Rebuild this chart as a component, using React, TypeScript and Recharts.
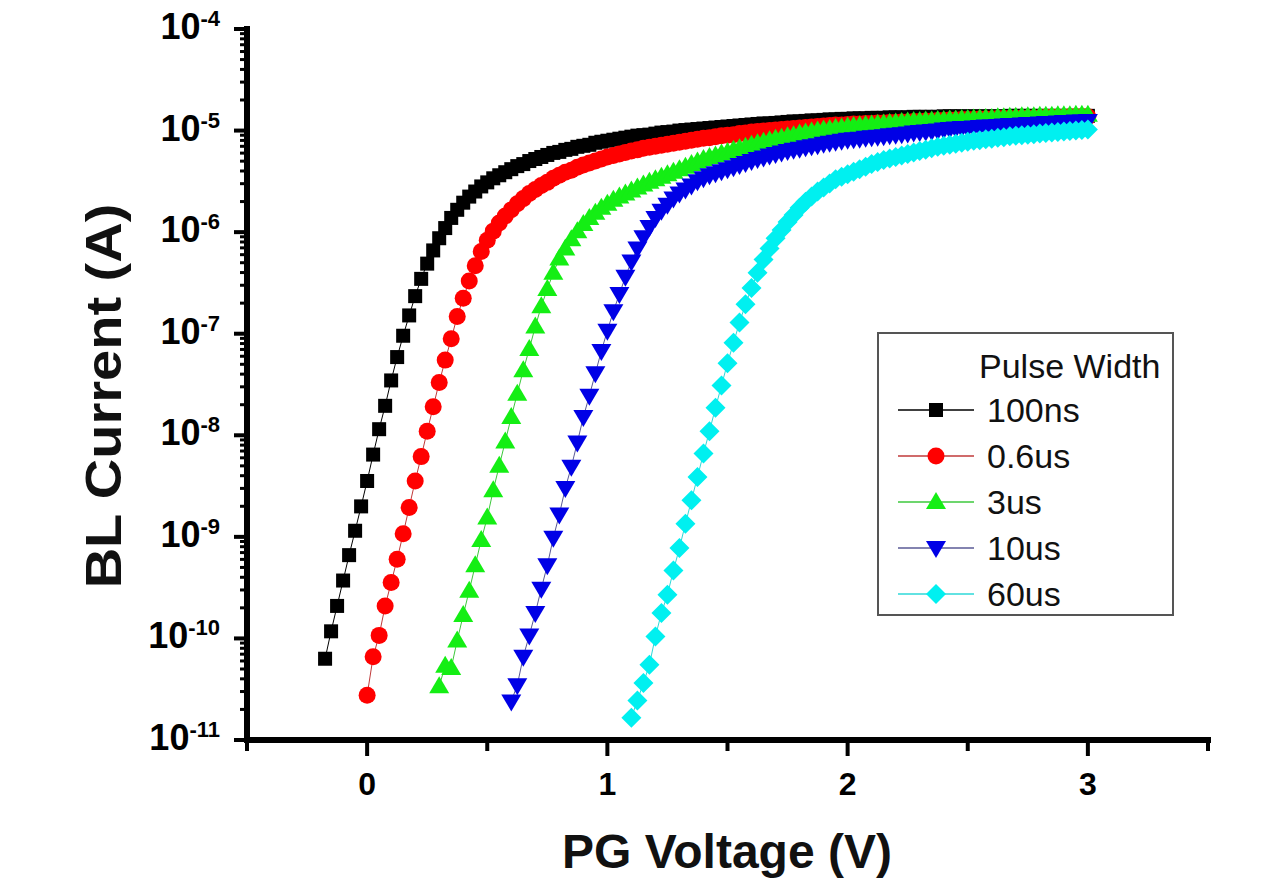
import { ScatterChart, Scatter, XAxis, YAxis, Legend, Label } from "recharts";

// gate voltage sweep (V), 25 mV steps
const VOLTAGES = [
  -0.175, -0.15, -0.125, -0.1, -0.075, -0.05, -0.025, 0,
  0.025, 0.05, 0.075, 0.1, 0.125, 0.15, 0.175, 0.2,
  0.225, 0.25, 0.275, 0.3, 0.325, 0.35, 0.375, 0.4,
  0.425, 0.45, 0.475, 0.5, 0.525, 0.55, 0.575, 0.6,
  0.625, 0.65, 0.675, 0.7, 0.725, 0.75, 0.775, 0.8,
  0.825, 0.85, 0.875, 0.9, 0.925, 0.95, 0.975, 1,
  1.025, 1.05, 1.075, 1.1, 1.125, 1.15, 1.175, 1.2,
  1.225, 1.25, 1.275, 1.3, 1.325, 1.35, 1.375, 1.4,
  1.425, 1.45, 1.475, 1.5, 1.525, 1.55, 1.575, 1.6,
  1.625, 1.65, 1.675, 1.7, 1.725, 1.75, 1.775, 1.8,
  1.825, 1.85, 1.875, 1.9, 1.925, 1.95, 1.975, 2,
  2.025, 2.05, 2.075, 2.1, 2.125, 2.15, 2.175, 2.2,
  2.225, 2.25, 2.275, 2.3, 2.325, 2.35, 2.375, 2.4,
  2.425, 2.45, 2.475, 2.5, 2.525, 2.55, 2.575, 2.6,
  2.625, 2.65, 2.675, 2.7, 2.725, 2.75, 2.775, 2.8,
  2.825, 2.85, 2.875, 2.9, 2.925, 2.95, 2.975, 3,
];

// log10 of BL current (A), one value per sweep step from the series' start voltage
const LOG_I_100NS = [
  -10.2, -9.93, -9.68, -9.43, -9.18, -8.94, -8.7, -8.45,
  -8.19, -7.94, -7.71, -7.46, -7.23, -7.02, -6.82, -6.63,
  -6.46, -6.31, -6.18, -6.06, -5.96, -5.86, -5.78, -5.71,
  -5.65, -5.6, -5.55, -5.51, -5.47, -5.44, -5.41, -5.38,
  -5.35, -5.33, -5.3, -5.28, -5.26, -5.24, -5.22, -5.21,
  -5.19, -5.18, -5.16, -5.15, -5.14, -5.12, -5.11, -5.1,
  -5.09, -5.08, -5.07, -5.06, -5.05, -5.045, -5.04, -5.03,
  -5.02, -5.015, -5.01, -5.0, -4.995, -4.99, -4.985, -4.98,
  -4.975, -4.97, -4.965, -4.96, -4.955, -4.95, -4.945, -4.94,
  -4.935, -4.93, -4.93, -4.925, -4.92, -4.915, -4.91, -4.91,
  -4.905, -4.9, -4.9, -4.895, -4.89, -4.89, -4.885, -4.885,
  -4.88, -4.88, -4.88, -4.875, -4.875, -4.875, -4.87, -4.87,
  -4.87, -4.87, -4.865, -4.865, -4.865, -4.865, -4.865, -4.86,
  -4.86, -4.86, -4.86, -4.86, -4.86, -4.86, -4.86, -4.86,
  -4.86, -4.86, -4.855, -4.855, -4.855, -4.855, -4.855, -4.855,
  -4.855, -4.855, -4.855, -4.855, -4.855, -4.855, -4.855, -4.855,
];

const LOG_I_06US = [
  -10.56, -10.18, -9.97, -9.68, -9.45, -9.22, -8.97, -8.71,
  -8.45, -8.21, -7.96, -7.72, -7.48, -7.26, -7.05, -6.83,
  -6.65, -6.48, -6.33, -6.19, -6.08, -5.99, -5.91, -5.84,
  -5.78, -5.72, -5.67, -5.62, -5.58, -5.54, -5.51, -5.47,
  -5.44, -5.41, -5.39, -5.36, -5.34, -5.32, -5.3, -5.28,
  -5.26, -5.245, -5.23, -5.215, -5.2, -5.19, -5.175, -5.165,
  -5.155, -5.145, -5.135, -5.125, -5.115, -5.105, -5.095, -5.085,
  -5.075, -5.07, -5.06, -5.05, -5.045, -5.04, -5.03, -5.025,
  -5.015, -5.01, -5.005, -5.0, -4.995, -4.99, -4.985, -4.98,
  -4.975, -4.97, -4.965, -4.96, -4.955, -4.95, -4.945, -4.945,
  -4.94, -4.935, -4.935, -4.93, -4.93, -4.925, -4.925, -4.92,
  -4.92, -4.915, -4.915, -4.91, -4.91, -4.905, -4.905, -4.9,
  -4.9, -4.895, -4.895, -4.89, -4.89, -4.89, -4.885, -4.885,
  -4.885, -4.88, -4.88, -4.88, -4.88, -4.875, -4.875, -4.875,
  -4.875, -4.87, -4.87, -4.87, -4.87, -4.865, -4.865, -4.865,
  -4.865,
];

const LOG_I_3US = [
  -10.47, -10.27, -10.29, -10.02, -9.77, -9.53, -9.28, -9.03,
  -8.81, -8.54, -8.3, -8.06, -7.82, -7.59, -7.36, -7.15,
  -6.93, -6.73, -6.56, -6.4, -6.26, -6.16, -6.07, -5.99,
  -5.92, -5.86, -5.81, -5.76, -5.72, -5.68, -5.65, -5.62,
  -5.59, -5.56, -5.53, -5.505, -5.48, -5.455, -5.43, -5.405,
  -5.38, -5.355, -5.33, -5.305, -5.28, -5.26, -5.245, -5.225,
  -5.21, -5.19, -5.175, -5.16, -5.14, -5.125, -5.11, -5.095,
  -5.08, -5.07, -5.055, -5.045, -5.03, -5.02, -5.01, -5.0,
  -4.99, -4.985, -4.975, -4.97, -4.96, -4.955, -4.95, -4.945,
  -4.94, -4.935, -4.93, -4.925, -4.92, -4.915, -4.91, -4.905,
  -4.905, -4.9, -4.9, -4.895, -4.895, -4.89, -4.89, -4.885,
  -4.885, -4.88, -4.88, -4.875, -4.875, -4.87, -4.87, -4.865,
  -4.865, -4.86, -4.86, -4.86, -4.855, -4.855, -4.855, -4.85,
  -4.85, -4.85, -4.845, -4.845, -4.845,
];

const LOG_I_10US = [
  -10.62, -10.46, -10.18, -9.97, -9.75, -9.51, -9.28, -9.01,
  -8.78, -8.52, -8.31, -8.07, -7.82, -7.61, -7.39, -7.17,
  -6.97, -6.78, -6.61, -6.44, -6.29, -6.16, -6.05, -5.95,
  -5.86, -5.79, -5.73, -5.67, -5.62, -5.58, -5.54, -5.5,
  -5.47, -5.44, -5.42, -5.4, -5.38, -5.36, -5.34, -5.32,
  -5.3, -5.28, -5.265, -5.245, -5.23, -5.215, -5.2, -5.19,
  -5.18, -5.165, -5.155, -5.145, -5.13, -5.12, -5.11, -5.1,
  -5.09, -5.085, -5.08, -5.07, -5.065, -5.06, -5.055, -5.045,
  -5.04, -5.035, -5.03, -5.02, -5.015, -5.01, -5.005, -5.0,
  -4.99, -4.985, -4.98, -4.975, -4.975, -4.97, -4.965, -4.96,
  -4.96, -4.955, -4.95, -4.945, -4.945, -4.94, -4.935, -4.935,
  -4.93, -4.925, -4.925, -4.92, -4.915, -4.915, -4.91, -4.91,
  -4.905,
];

const LOG_I_60US = [
  -10.78, -10.61, -10.44, -10.26, -9.98, -9.75, -9.57, -9.33,
  -9.11, -8.87, -8.64, -8.41, -8.18, -7.96, -7.73, -7.51,
  -7.29, -7.09, -6.89, -6.71, -6.55, -6.4, -6.27, -6.16,
  -6.06, -5.98, -5.9, -5.83, -5.76, -5.7, -5.65, -5.6,
  -5.56, -5.52, -5.48, -5.455, -5.43, -5.405, -5.38, -5.355,
  -5.33, -5.31, -5.29, -5.275, -5.26, -5.245, -5.23, -5.215,
  -5.2, -5.19, -5.175, -5.16, -5.15, -5.14, -5.13, -5.12,
  -5.11, -5.1, -5.095, -5.085, -5.08, -5.07, -5.065, -5.055,
  -5.05, -5.045, -5.04, -5.035, -5.03, -5.025, -5.02, -5.015,
  -5.01, -5.005, -5.0, -4.995, -4.99,
];

const X_TICKS = [-0.5, 0, 0.5, 1, 1.5, 2, 2.5, 3, 3.5];
const DECADES = [-11, -10, -9, -8, -7, -6, -5, -4];
const MINOR_STEPS = [2, 3, 4, 5, 6, 7, 8, 9];

type MarkerKind = "square" | "circle" | "triangle" | "triangleDown" | "diamond";

const SERIES: { name: string; start: number; values: number[]; color: string; lineColor: string; marker: MarkerKind }[] = [
  { name: "100ns", start: -0.175, values: LOG_I_100NS, color: "#000000", lineColor: "#000000", marker: "square" },
  { name: "0.6us", start: 0, values: LOG_I_06US, color: "#ff0000", lineColor: "#c03a3a", marker: "circle" },
  { name: "3us", start: 0.3, values: LOG_I_3US, color: "#14ee14", lineColor: "#3cc83c", marker: "triangle" },
  { name: "10us", start: 0.6, values: LOG_I_10US, color: "#0000e6", lineColor: "#5a5a96", marker: "triangleDown" },
  { name: "60us", start: 1.1, values: LOG_I_60US, color: "#00f0f0", lineColor: "#2ed8d8", marker: "diamond" },
];

const Y_TICKS = [
  ...DECADES.slice(0, -1).flatMap((d) => [d, ...MINOR_STEPS.map((k) => d + Math.log10(k))]),
  DECADES[DECADES.length - 1],
];

const FONT = '"Liberation Sans", Arial, Helvetica, sans-serif';

const isWhole = (v: number) => Math.abs(v - Math.round(v)) < 1e-9;

function Marker({ kind, cx, cy, fill }: { kind: MarkerKind; cx: number; cy: number; fill: string }) {
  switch (kind) {
    case "square":
      return <rect x={cx - 7} y={cy - 7} width={14} height={14} fill={fill} />;
    case "circle":
      return <circle cx={cx} cy={cy} r={8.5} fill={fill} />;
    case "triangle":
      return <polygon points={`${cx},${cy - 10} ${cx + 10},${cy + 7} ${cx - 10},${cy + 7}`} fill={fill} />;
    case "triangleDown":
      return <polygon points={`${cx - 10},${cy - 7} ${cx + 10},${cy - 7} ${cx},${cy + 10}`} fill={fill} />;
    default:
      return <polygon points={`${cx},${cy - 10} ${cx + 10},${cy} ${cx},${cy + 10} ${cx - 10},${cy}`} fill={fill} />;
  }
}

const XTick = ({ x, y, payload }: any) => {
  const major = isWhole(payload.value);
  return (
    <g>
      <line x1={x} x2={x} y1={y} y2={y + (major ? 16 : 11)} stroke="#000" strokeWidth={4} />
      {major && (
        <text x={x} y={y + 55} textAnchor="middle" fontFamily={FONT} fontWeight="bold" fontSize={32} fill="#000">
          {payload.value}
        </text>
      )}
    </g>
  );
};

const YTick = ({ x, y, payload }: any) => {
  const major = isWhole(payload.value);
  return (
    <g>
      <line x1={x - (major ? 13 : 7)} x2={x} y1={y} y2={y} stroke="#000" strokeWidth={major ? 4 : 3} />
      {major && (
        <text x={x - 27} y={y + 10} textAnchor="end" fontFamily={FONT} fontWeight="bold" fill="#000">
          <tspan fontSize={36}>10</tspan>
          <tspan fontSize={22} dy={-13}>{Math.round(payload.value)}</tspan>
        </text>
      )}
    </g>
  );
};

const PulseLegend = () => (
  <svg width={297} height={284} style={{ display: "block" }}>
    <rect x={1} y={1} width={295} height={282} fill="#fff" stroke="#555" strokeWidth={2} />
    <text x={102} y={46} fontFamily={FONT} fontSize={34} fill="#111">
      Pulse Width
    </text>
    {SERIES.map((s, i) => {
      const cy = 78 + i * 46;
      return (
        <g key={s.name}>
          <line x1={21} x2={97} y1={cy} y2={cy} stroke={s.lineColor} strokeWidth={1.5} />
          <Marker kind={s.marker} cx={59} cy={cy} fill={s.color} />
          <text x={110} y={cy + 12} fontFamily={FONT} fontSize={34} fill="#111">
            {s.name}
          </text>
        </g>
      );
    })}
  </svg>
);

export default function App() {
  const seriesData = SERIES.map((s) => {
    const from = VOLTAGES.indexOf(s.start);
    return s.values.map((logI, i) => ({ v: VOLTAGES[from + i], logI }));
  });

  return (
    <div style={{ position: "absolute", left: 0, top: 0, width: 1266, height: 882, background: "#fff" }}>
      <ScatterChart width={1266} height={882} margin={{ top: 29, right: 58, bottom: 62, left: 87 }}>
        <XAxis
          xAxisId={0}
          type="number"
          dataKey="v"
          domain={[-0.5, 3.5]}
          ticks={X_TICKS}
          interval={0}
          allowDataOverflow
          height={80}
          tickSize={0}
          tickMargin={0}
          tick={<XTick />}
          axisLine={{ stroke: "#000", strokeWidth: 6, strokeLinecap: "square" }}
        >
          <Label
            content={() => (
              <text x={727} y={868} textAnchor="middle" fontFamily={FONT} fontWeight="bold" fontSize={48} fill="#111">
                PG Voltage (V)
              </text>
            )}
          />
        </XAxis>
        <XAxis
          xAxisId="top"
          orientation="top"
          type="number"
          domain={[-0.5, 3.5]}
          height={0}
          tick={false}
          tickLine={false}
          axisLine={{ stroke: "#000", strokeWidth: 6, strokeLinecap: "square" }}
        />
        <YAxis
          yAxisId={0}
          type="number"
          dataKey="logI"
          domain={[-11, -4]}
          ticks={Y_TICKS}
          interval={0}
          allowDataOverflow
          width={160}
          tickSize={0}
          tickMargin={0}
          tick={<YTick />}
          axisLine={{ stroke: "#000", strokeWidth: 6, strokeLinecap: "square" }}
        >
          <Label
            content={() => (
              <text
                transform="translate(121,396) rotate(-90) scale(1.12,1)"
                textAnchor="middle"
                fontFamily={FONT}
                fontWeight="bold"
                fontSize={50}
                fill="#111"
              >
                BL Current (A)
              </text>
            )}
          />
        </YAxis>
        <YAxis
          yAxisId="right"
          orientation="right"
          type="number"
          domain={[-11, -4]}
          width={0}
          tick={false}
          tickLine={false}
          axisLine={{ stroke: "#000", strokeWidth: 6, strokeLinecap: "square" }}
        />
        <Legend
          layout="vertical"
          align="center"
          verticalAlign="middle"
          content={() => <PulseLegend />}
          wrapperStyle={{ position: "absolute", left: 877, top: 332, width: 297, height: 284 }}
        />
        {SERIES.map((s, i) => (
          <Scatter
            key={s.name}
            name={s.name}
            data={seriesData[i]}
            xAxisId={0}
            yAxisId={0}
            fill={s.color}
            line={{ stroke: s.lineColor, strokeWidth: 1 }}
            shape={(p: any) => <Marker kind={s.marker} cx={p.cx} cy={p.cy} fill={s.color} />}
            isAnimationActive={false}
          />
        ))}
      </ScatterChart>
    </div>
  );
}
